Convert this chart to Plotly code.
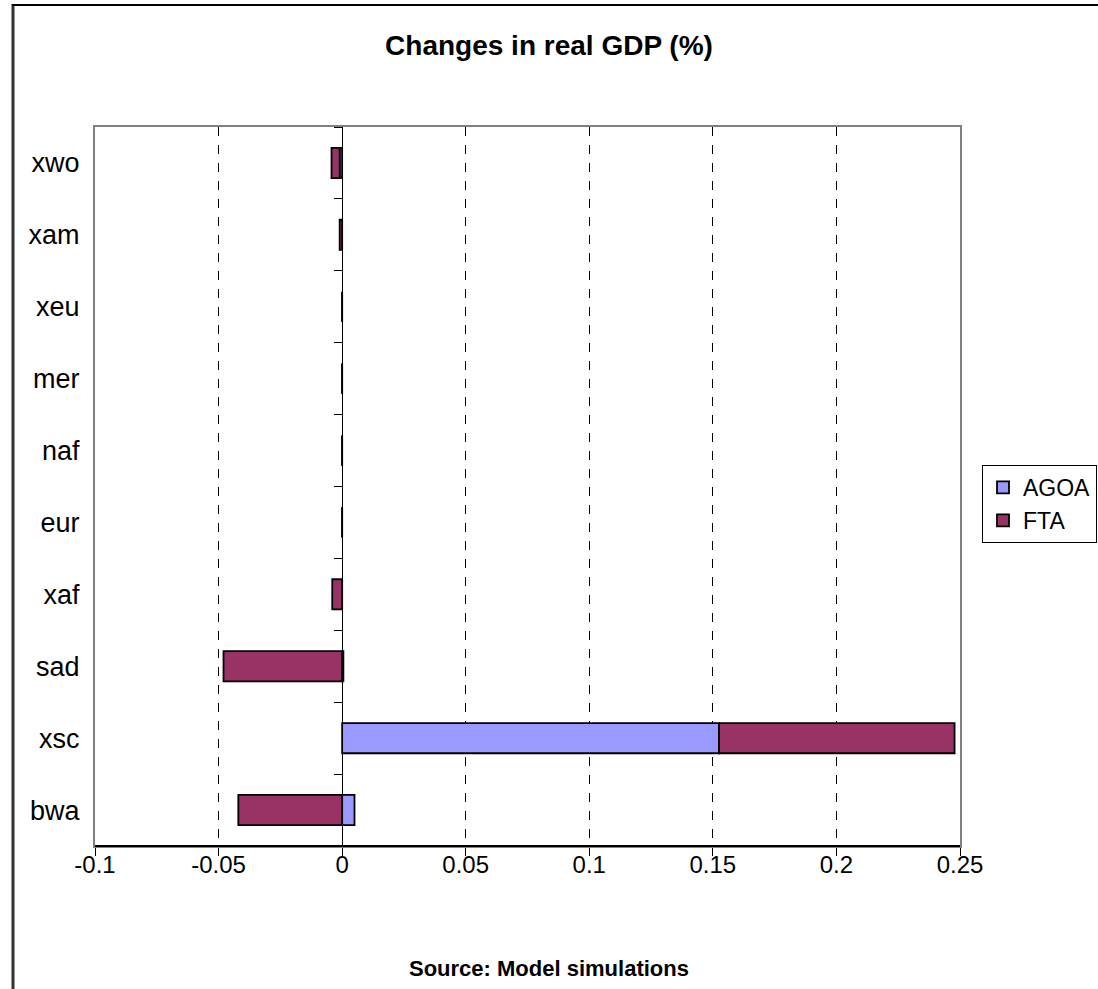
import plotly.graph_objects as go

categories = ["bwa", "xsc", "sad", "xaf", "eur", "naf", "mer", "xeu", "xam", "xwo"]
agoa = [0.005, 0.1525, 0.0005, 0.0, 0.0, 0.0, 0.0, 0.0, 0.0, -0.001]
fta = [-0.042, 0.0953, -0.048, -0.004, 0.0, 0.0, 0.0, 0.0, -0.001, -0.0033]
x_ticks = [-0.1, -0.05, 0, 0.05, 0.1, 0.15, 0.2, 0.25]
x_tick_text = ["-0.1", "-0.05", "0", "0.05", "0.1", "0.15", "0.2", "0.25"]

FONT = "Liberation Sans Narrow, Arial Narrow, Liberation Sans, Arial, sans-serif"

W, H = 1098, 989
ML, MR, MT, MB = 95, 138, 127, 143
XMIN, XMAX = -0.1, 0.25
pw, ph = W - ML - MR, H - MT - MB

fig = go.Figure()
fig.add_trace(go.Bar(
    y=categories, x=agoa, orientation="h", name="AGOA",
    marker=dict(color="#9999FF", line=dict(color="black", width=1.8)),
))
fig.add_trace(go.Bar(
    y=categories, x=fta, orientation="h", name="FTA",
    marker=dict(color="#993366", line=dict(color="black", width=1.8)),
))
# invisible helper trace to carry the category axis drawn at x = 0
fig.add_trace(go.Scatter(
    y=categories, x=[0] * len(categories), yaxis="y2", mode="markers",
    marker=dict(opacity=0), showlegend=False, hoverinfo="skip",
))

zero_pos = (0 - XMIN) / (XMAX - XMIN)

fig.update_layout(
    width=W, height=H,
    margin=dict(l=ML, r=MR, t=MT, b=MB, autoexpand=False),
    paper_bgcolor="white", plot_bgcolor="white",
    barmode="relative", bargap=0.58,
    font=dict(family=FONT, size=24, color="black"),
    title=dict(text="<b>Changes in real GDP (%)</b>", x=0.5, xanchor="center",
               y=1 - 45 / H, yanchor="middle", font=dict(size=28, family=FONT)),
    xaxis=dict(
        range=[XMIN, XMAX], tickvals=x_ticks, ticktext=x_tick_text,
        showgrid=True, gridcolor="black", griddash="dash", gridwidth=1,
        zeroline=True, zerolinecolor="black", zerolinewidth=1,
        showline=True, linecolor="#808080", linewidth=2, mirror=True,
        ticks="outside", ticklen=8, tickcolor="black", tickwidth=1,
        ticklabelstandoff=-12, automargin=False,
        tickfont=dict(size=24, family=FONT),
    ),
    yaxis=dict(
        type="category", categoryorder="array", categoryarray=categories,
        range=[-0.5, len(categories) - 0.5], automargin=False,
        showgrid=False, zeroline=False, showline=True, linecolor="#808080",
        linewidth=2, mirror=True, ticks="", ticklabelstandoff=8,
        tickfont=dict(size=27, family=FONT),
    ),
    yaxis2=dict(
        type="category", categoryorder="array", categoryarray=categories,
        range=[-0.5, len(categories) - 0.5], overlaying="y", anchor="free",
        position=zero_pos, side="left", showgrid=False, zeroline=False,
        showline=True, linecolor="black", linewidth=1, automargin=False,
        ticks="outside", tickson="boundaries", ticklen=8, tickcolor="black",
        showticklabels=False,
    ),
    legend=dict(
        x=(982 - ML) / pw, y=1 - (465 - MT) / ph,
        xanchor="left", yanchor="top", traceorder="normal",
        bordercolor="black", borderwidth=1, bgcolor="white",
        font=dict(size=23, family=FONT), itemwidth=30, tracegroupgap=0,
    ),
    showlegend=True,
)

# source note centred on the whole chart
fig.add_annotation(text="<b>Source: Model simulations</b>", xref="paper", yref="paper",
                   x=(549 - ML) / pw, y=-(968 - (H - MB)) / ph, xanchor="center",
                   yanchor="middle", showarrow=False, font=dict(size=22, family=FONT))

# bottom axis line in black
fig.add_shape(type="line", xref="paper", yref="paper", x0=0, x1=1, y0=0, y1=0,
              line=dict(color="black", width=2), layer="above")

# outer chart frame
fig.add_shape(type="line", xref="paper", yref="paper",
              x0=(13 - ML) / pw, x1=(13 - ML) / pw, y0=-(H - MT) / ph, y1=1 + (MT - 4) / ph,
              line=dict(color="#333333", width=3))
fig.add_shape(type="line", xref="paper", yref="paper",
              x0=(12 - ML) / pw, x1=(W + 10 - ML) / pw, y0=1 + (MT - 5) / ph, y1=1 + (MT - 5) / ph,
              line=dict(color="black", width=2))

fig.write_html("out.html", config={"displayModeBar": False},
               post_script="document.body.style.margin='0';document.body.style.overflow='hidden';")
